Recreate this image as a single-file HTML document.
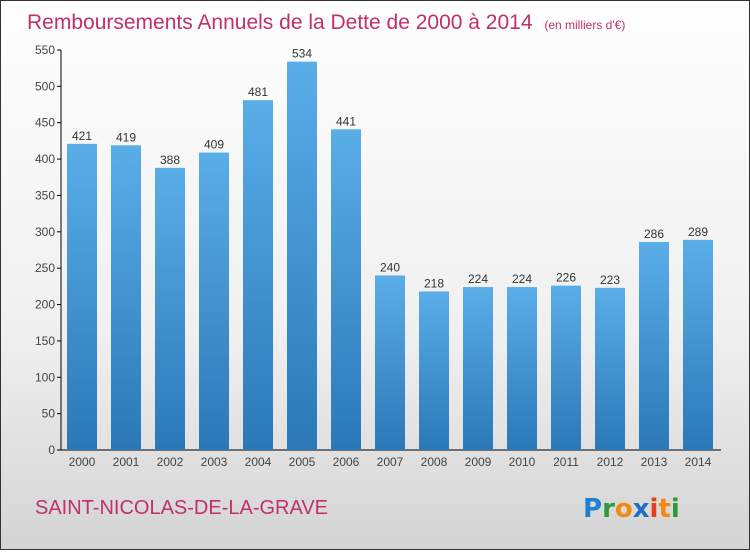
<!DOCTYPE html>
<html><head><meta charset="utf-8"><style>
body{margin:0;width:750px;height:550px;overflow:hidden;font-family:"Liberation Sans",sans-serif}
#wrap{position:absolute;left:0;top:0;width:748px;height:548px;border:1px solid #333;background:linear-gradient(#fefefe,#f0f0f0 60%,#d4d4d4)}
</style></head><body>
<div id="wrap">
<svg width="748" height="548" id="svg" style="font-family:'Liberation Sans',sans-serif">
<defs><linearGradient id="bg" x1="0" y1="0" x2="0" y2="1"><stop offset="0" stop-color="#5aaee8"/><stop offset="1" stop-color="#2a78b8"/></linearGradient></defs>
<text x="26" y="28" font-size="21" fill="#c0306a">Remboursements Annuels de la Dette de 2000 à 2014 <tspan font-size="12" dx="6">(en milliers d'€)</tspan></text>
<text x="34" y="513" font-size="20" fill="#c0306a">SAINT-NICOLAS-DE-LA-GRAVE</text>
<g font-size="26" font-weight="bold" font-family="'DejaVu Sans',sans-serif">
<text x="582" y="516"><tspan fill="#1f7fd0">P</tspan><tspan fill="#2e9a3e">r</tspan><tspan fill="#f08a10">o</tspan><tspan fill="#1f6fc0">x</tspan><tspan fill="#e04020">i</tspan><tspan fill="#f08a10">t</tspan><tspan fill="#2e9a3e">i</tspan></text></g>
<g id="plot"></g>
</svg></div>
<script>
const years=["2000","2001","2002","2003","2004","2005","2006","2007","2008","2009","2010","2011","2012","2013","2014"];
const values=[421,419,388,409,481,534,441,240,218,224,224,226,223,286,289];
const ticks=[0,50,100,150,200,250,300,350,400,450,500,550];
const NS="http://www.w3.org/2000/svg";
const g=document.getElementById('plot');
const y0=449,k=400/550;
const yS=v=>y0-v*k;
const xS=i=>81+i*44;
function el(t,a){const e=document.createElementNS(NS,t);for(const n in a)e.setAttribute(n,a[n]);g.appendChild(e);return e;}
let ax=el('line',{x1:60,y1:yS(550),x2:60,y2:y0,stroke:'#000'});


let bx=el('line',{x1:60,y1:y0,x2:720,y2:y0,stroke:'#000'});


ticks.forEach(t=>{
 let l=el('line',{x1:56,y1:yS(t),x2:60,y2:yS(t),stroke:'#000'});
 
 
 let tx=el('text',{x:54,y:yS(t)+4,'font-size':12,fill:'#444','text-anchor':'end'});
 tx.textContent=t;
 
 
});
values.forEach((v,i)=>{
 let r=el('rect',{x:xS(i)-15,y:yS(v),width:30,height:y0-yS(v),fill:'url(#bg)'});
 
 
 let vt=el('text',{x:xS(i),y:yS(v)-4,'font-size':12,fill:'#333','text-anchor':'middle'});
 vt.textContent=v;
 
 
 let xt=el('text',{x:xS(i),y:y0+16,'font-size':12,fill:'#444','text-anchor':'middle'});
 xt.textContent=years[i];
 
 
});
</script>
</body></html>
